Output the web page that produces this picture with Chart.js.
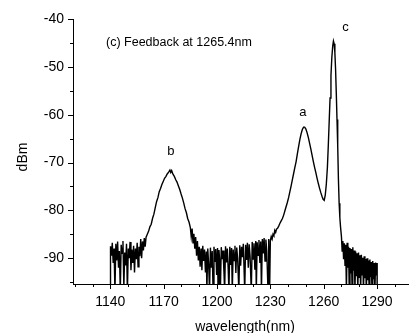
<!DOCTYPE html>
<html>
<head>
<meta charset="utf-8">
<script src="https://cdn.jsdelivr.net/npm/chart.js@4.4.1/dist/chart.umd.min.js"></script>
<style>
  html, body { margin: 0; padding: 0; background: #fff; }
  #spectrum { display: block; }
</style>
</head>
<body>
<canvas id="spectrum" width="409" height="333"></canvas>
<script>
// spectrum, split into pieces (nm / dBm)
// values below the floor (-97) just mean the trace hits the bottom axis
const noiseLeftNm = [
  1140.0, 1140.1, 1140.6, 1141.1, 1141.6, 1142.1, 1142.6, 1143.1, 1143.6, 1144.1,
  1144.6, 1145.1, 1145.6, 1146.1, 1146.6, 1147.1, 1147.6, 1148.1, 1148.6, 1149.1,
  1149.6, 1150.1, 1150.6, 1151.1, 1151.6, 1152.1, 1152.6, 1153.1, 1153.6, 1154.1,
  1154.6, 1155.1, 1155.6, 1156.1, 1156.6, 1157.1, 1157.6, 1158.1, 1158.6, 1159.1,
  1159.6, 1160.1
];
const noiseLeftDbm = [
  -97, -87.5, -89.5, -86.8, -91, -88, -97, -87, -90.5, -86.5,
  -92, -88.5, -97, -87.2, -89, -86.4, -96, -88.8, -91.5, -87,
  -97, -88, -90, -86.6, -92.5, -88.2, -91, -87.4, -93, -88,
  -90.2, -86.8, -91.8, -87.6, -89.6, -86, -90, -86.5, -88.4, -85.8,
  -87.6, -85.6
];

const peakBNm = [
  1160.8, 1161.5, 1162.3, 1163.0, 1163.8, 1164.5, 1165.3, 1166.0, 1166.8, 1167.5,
  1168.3, 1169.0, 1169.8, 1170.5, 1171.3, 1172.0, 1172.8, 1173.5, 1174.0, 1174.5,
  1175.3, 1176.0, 1176.8, 1177.5, 1178.3, 1179.0, 1179.8, 1180.5, 1181.3, 1182.0,
  1182.8, 1183.5, 1184.3, 1185.0, 1185.5, 1186.0, 1186.5, 1187.0, 1187.5, 1188.0,
  1188.5, 1189.0
];
const peakBDbm = [
  -85.0, -84.4, -83.4, -82.9, -81.6, -80.8, -79.4, -78.2, -77.3, -76.1,
  -75.4, -74.6, -73.9, -73.3, -72.9, -72.4, -72.0, -71.6, -72.1, -71.7,
  -72.5, -72.9, -73.6, -74.1, -74.9, -75.6, -76.6, -77.4, -78.5, -79.6,
  -80.5, -81.7, -82.5, -83.6, -85.5, -83.8, -86.8, -84.9, -88.0, -85.6,
  -89.5, -86.4
];

const noiseMidNm = [
  1189.5, 1190.0, 1190.5, 1191.0, 1191.5, 1192.0, 1192.5, 1193.0, 1193.5, 1194.0,
  1194.3, 1194.8, 1195.3, 1195.8, 1196.3, 1196.8, 1197.3, 1197.8, 1198.3, 1198.8,
  1199.3, 1199.8, 1200.3, 1200.6, 1201.1, 1201.6, 1201.9, 1202.4, 1202.9, 1203.4,
  1203.9, 1204.3, 1204.8, 1205.3, 1205.8, 1206.3, 1206.7, 1207.2, 1207.7, 1208.2,
  1208.6, 1209.1, 1209.6, 1210.1, 1210.6, 1211.1, 1211.6, 1212.3, 1212.8, 1213.3,
  1213.8, 1214.3, 1214.8, 1215.6, 1216.1, 1216.6, 1217.1, 1217.6, 1218.1, 1218.6,
  1219.3, 1219.8, 1220.3, 1220.8, 1221.3, 1221.8, 1222.1, 1222.6, 1223.1, 1223.6,
  1224.1, 1224.6, 1225.0, 1225.5, 1226.0, 1226.5, 1227.0, 1227.5, 1228.0, 1228.7,
  1229.1, 1229.6, 1230.0
];
const noiseMidDbm = [
  -90.5, -87.6, -91.8, -88.0, -92.5, -87.4, -90.6, -88.2, -93.0, -88.6,
  -97, -88.0, -91.2, -97, -87.8, -92.0, -88.5, -97, -87.6, -90.8,
  -88.1, -93.5, -87.9, -97, -88.3, -91.0, -97, -87.7, -90.2, -88.4,
  -92.8, -97, -87.5, -90.9, -88.0, -92.2, -97, -87.6, -91.4, -87.9,
  -97, -88.2, -90.5, -87.4, -93.1, -87.8, -90.0, -97, -87.3, -91.6,
  -87.6, -89.8, -87.0, -97, -87.2, -90.4, -86.8, -92.0, -87.1, -89.6,
  -97, -86.6, -90.2, -86.9, -92.4, -86.4, -97, -86.7, -89.4, -86.2,
  -91.0, -86.5, -97, -86.0, -89.0, -85.8, -90.6, -86.1, -88.5, -97,
  -86.0, -97, -86.4
];

const peakANm = [
  1230.5, 1231.0, 1231.5, 1232.0, 1232.5, 1233.0, 1233.5, 1234.0, 1234.7, 1235.4,
  1236.1, 1236.8, 1237.5, 1238.2, 1238.9, 1239.6, 1240.3, 1241.0, 1241.7, 1242.4,
  1243.1, 1243.8, 1244.5, 1245.2, 1245.9, 1246.6, 1247.3, 1248.0, 1248.7, 1249.3,
  1250.0, 1250.7, 1251.4, 1252.1, 1252.8, 1253.5, 1254.2, 1254.9, 1255.6, 1256.3,
  1257.0, 1257.7, 1258.4, 1259.1, 1259.7, 1260.3
];
const peakADbm = [
  -85.5, -86.0, -85.0, -85.3, -84.2, -84.6, -83.9, -83.8, -83.3, -82.7,
  -82.2, -81.7, -81.0, -80.1, -79.2, -78.3, -77.3, -76.1, -74.9, -73.6,
  -72.3, -71.0, -69.8, -68.2, -66.7, -65.2, -64.0, -63.1, -62.6, -62.6,
  -63.0, -63.8, -64.8, -66.0, -67.2, -68.5, -69.8, -71.0, -72.1, -73.3,
  -74.4, -75.4, -76.3, -77.1, -77.7, -77.9
];

const peakCNm = [
  1260.9, 1261.5, 1262.1, 1262.6, 1263.1, 1263.6, 1264.1, 1264.6, 1265.1, 1265.5,
  1265.9, 1266.3, 1266.7, 1267.1, 1267.5, 1267.9, 1268.3, 1268.7, 1269.1, 1269.5
];
const peakCDbm = [
  -76.8, -74.5, -71.0, -66.5, -61.5, -56.5, -51.8, -48.0, -45.6, -44.6,
  -45.2, -47.0, -50.5, -55.5, -61.0, -66.5, -73.5, -78.5, -81.5, -83.5
];

const noiseRightNm = [
  1270.0, 1270.4, 1270.8, 1271.2, 1271.6, 1272.0, 1272.4, 1272.8, 1273.2, 1273.6,
  1274.0, 1274.4, 1274.8, 1275.2, 1275.6, 1276.0, 1276.4, 1276.8, 1277.2, 1277.6,
  1278.0, 1278.4, 1278.8, 1279.2, 1279.6, 1280.0, 1280.4, 1280.8, 1281.2, 1281.6,
  1282.0, 1282.4, 1282.8, 1283.2, 1283.6, 1284.0, 1284.4, 1284.8, 1285.2, 1285.6,
  1286.0, 1286.4, 1286.8, 1287.2, 1287.6, 1288.0, 1288.4, 1288.8, 1289.2, 1289.6,
  1290.0, 1290.1
];
const noiseRightDbm = [
  -85.5, -88.5, -86.4, -90.2, -86.9, -91.5, -87.2, -97, -86.8, -92.0,
  -87.6, -97, -87.9, -93.2, -88.1, -97, -87.7, -92.6, -88.4, -97,
  -88.6, -93.8, -89.0, -97, -88.8, -94.0, -89.4, -97, -89.3, -93.5,
  -89.9, -97, -89.6, -94.2, -90.2, -97, -90.0, -94.6, -90.5, -97,
  -90.3, -94.0, -90.8, -97, -90.6, -94.4, -91.0, -97, -90.9, -93.6,
  -91.0, -97
];

const xTicks = [1120, 1130, 1140, 1150, 1160, 1170, 1180, 1190, 1200, 1210,
  1220, 1230, 1240, 1250, 1260, 1270, 1280, 1290, 1300];
const yTicks = [-95, -90, -85, -80, -75, -70, -65, -60, -55, -50, -45, -40];

const wavelength = [].concat(noiseLeftNm, peakBNm, noiseMidNm, peakANm, peakCNm, noiseRightNm);
const power = [].concat(noiseLeftDbm, peakBDbm, noiseMidDbm, peakADbm, peakCDbm, noiseRightDbm);
const points = wavelength.map((nm, i) => ({ x: nm, y: power[i] }));

Chart.defaults.font.family = '"Liberation Sans", Arial, sans-serif';
Chart.defaults.font.size = 14;
Chart.defaults.color = '#000';

// tick marks (major / minor), peak letters and the axis titles
const spectrumDecor = {
  id: 'spectrumDecor',
  afterDraw(chart) {
    const { ctx, chartArea, scales: { x, y } } = chart;
    ctx.save();
    ctx.strokeStyle = '#000';
    ctx.lineWidth = 1;
    ctx.beginPath();
    x.ticks.forEach(t => {
      const px = Math.round(x.getPixelForValue(t.value)) + 0.5;
      const len = t.value % 30 === 0 ? 5 : 3;
      ctx.moveTo(px, chartArea.bottom);
      ctx.lineTo(px, chartArea.bottom + len);
    });
    y.ticks.forEach(t => {
      const py = Math.round(y.getPixelForValue(t.value)) + 0.5;
      const len = t.value % 10 === 0 ? 5 : 3;
      ctx.moveTo(chartArea.left, py);
      ctx.lineTo(chartArea.left - len, py);
    });
    ctx.stroke();

    ctx.fillStyle = '#000';
    ctx.textAlign = 'center';
    ctx.textBaseline = 'middle';
    ctx.font = '13px "Liberation Sans", Arial, sans-serif';
    ctx.fillText('a', x.getPixelForValue(1248.3), y.getPixelForValue(-59.6));
    ctx.fillText('b', x.getPixelForValue(1174), y.getPixelForValue(-67.6));
    ctx.fillText('c', x.getPixelForValue(1272.3), y.getPixelForValue(-41.7));

    ctx.textAlign = 'left';
    ctx.font = '12.5px "Liberation Sans", Arial, sans-serif';
    ctx.fillText('(c) Feedback at 1265.4nm', 106, 43);

    ctx.textAlign = 'center';
    ctx.font = '14px "Liberation Sans", Arial, sans-serif';
    ctx.fillText('wavelength(nm)', 245, 327);
    ctx.translate(23, 157);
    ctx.rotate(-Math.PI / 2);
    ctx.fillText('dBm', 0, 0);
    ctx.restore();
  }
};

new Chart(document.getElementById('spectrum').getContext('2d'), {
  type: 'line',
  data: {
    datasets: [{
      data: points,
      borderColor: '#000',
      borderWidth: 1.4,
      pointRadius: 0,
      fill: false,
      tension: 0
    }]
  },
  options: {
    responsive: false,
    animation: false,
    devicePixelRatio: 1,
    layout: { padding: { top: 19, right: 0, left: 0, bottom: 0 } },
    plugins: { legend: { display: false }, tooltip: { enabled: false } },
    scales: {
      x: {
        type: 'linear',
        min: 1119,
        max: 1308,
        grid: { display: false, drawTicks: false },
        border: { display: true, color: '#000', width: 1 },
        afterBuildTicks: scale => { scale.ticks = xTicks.map(v => ({ value: v })); },
        afterFit: scale => { scale.height = 49; },
        ticks: {
          padding: 10,
          maxRotation: 0,
          autoSkip: false,
          callback: v => (v % 30 === 0 ? String(v) : '')
        }
      },
      y: {
        min: -95.4,
        max: -40,
        grid: { display: false, drawTicks: false },
        border: { display: true, color: '#000', width: 1 },
        afterBuildTicks: scale => { scale.ticks = yTicks.map(v => ({ value: v })); },
        afterFit: scale => { scale.width = 73; },
        ticks: {
          padding: 9,
          autoSkip: false,
          callback: v => (v % 10 === 0 ? String(v) : '')
        }
      }
    }
  },
  plugins: [spectrumDecor]
});
</script>
</body>
</html>
